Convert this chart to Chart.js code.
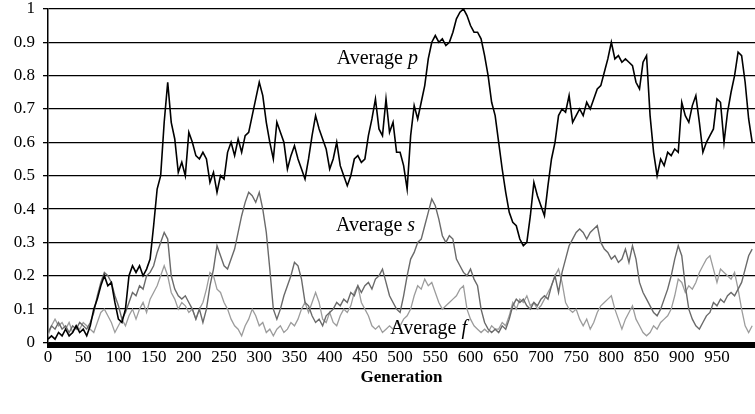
<!DOCTYPE html>
<html>
<head>
<meta charset="utf-8">
<title>Average p, s and f by generation</title>
<script src="https://cdn.jsdelivr.net/npm/chart.js@4"></script>
<style>
  body { margin: 0; background: #fff; }
  #wrap { width: 755px; height: 414px; position: relative; }
</style>
</head>
<body>
<div id="wrap"><canvas id="chart"></canvas></div>
<script>
const generations = [
  0, 5, 10, 15, 20, 25, 30, 35, 40, 45, 50, 55, 60, 65, 70, 75, 80, 85, 90, 95,
  100, 105, 110, 115, 120, 125, 130, 135, 140, 145, 150, 155, 160, 165, 170, 175, 180, 185, 190, 195,
  200, 205, 210, 215, 220, 225, 230, 235, 240, 245, 250, 255, 260, 265, 270, 275, 280, 285, 290, 295,
  300, 305, 310, 315, 320, 325, 330, 335, 340, 345, 350, 355, 360, 365, 370, 375, 380, 385, 390, 395,
  400, 405, 410, 415, 420, 425, 430, 435, 440, 445, 450, 455, 460, 465, 470, 475, 480, 485, 490, 495,
  500, 505, 510, 515, 520, 525, 530, 535, 540, 545, 550, 555, 560, 565, 570, 575, 580, 585, 590, 595,
  600, 605, 610, 615, 620, 625, 630, 635, 640, 645, 650, 655, 660, 665, 670, 675, 680, 685, 690, 695,
  700, 705, 710, 715, 720, 725, 730, 735, 740, 745, 750, 755, 760, 765, 770, 775, 780, 785, 790, 795,
  800, 805, 810, 815, 820, 825, 830, 835, 840, 845, 850, 855, 860, 865, 870, 875, 880, 885, 890, 895,
  900, 905, 910, 915, 920, 925, 930, 935, 940, 945, 950, 955, 960, 965, 970, 975, 980, 985, 990, 995, 1000,
]

// Average p (black)
const avgP = [
  0.01, 0.02, 0.01, 0.03, 0.02, 0.04, 0.02, 0.03, 0.05, 0.03, 0.04, 0.02, 0.05, 0.1, 0.13, 0.17, 0.2, 0.17, 0.18, 0.12,
  0.07, 0.06, 0.1, 0.2, 0.23, 0.21, 0.23, 0.2, 0.22, 0.25, 0.35, 0.46, 0.5, 0.66, 0.78, 0.66, 0.61, 0.51, 0.54, 0.5,
  0.63, 0.6, 0.56, 0.55, 0.57, 0.55, 0.48, 0.51, 0.45, 0.5, 0.49, 0.57, 0.6, 0.56, 0.61, 0.57, 0.62, 0.63, 0.68, 0.73,
  0.78, 0.74, 0.66, 0.6, 0.55, 0.66, 0.63, 0.6, 0.52, 0.56, 0.59, 0.55, 0.52, 0.49, 0.55, 0.62, 0.68, 0.64, 0.61, 0.58,
  0.52, 0.55, 0.6, 0.53, 0.5, 0.47, 0.5, 0.55, 0.56, 0.54, 0.55, 0.62, 0.67, 0.73, 0.64, 0.62, 0.73, 0.63, 0.66, 0.57,
  0.57, 0.53, 0.46, 0.62, 0.71, 0.67, 0.72, 0.77, 0.85, 0.9, 0.92, 0.9, 0.91, 0.89, 0.9, 0.93, 0.97, 0.99, 1.0, 0.98,
  0.95, 0.93, 0.93, 0.91, 0.86, 0.8, 0.72, 0.68, 0.6, 0.52, 0.45, 0.39, 0.36, 0.35, 0.31, 0.29, 0.3, 0.38, 0.48, 0.44,
  0.41, 0.38, 0.47, 0.55, 0.6, 0.68, 0.7, 0.69, 0.74, 0.66, 0.68, 0.7, 0.68, 0.72, 0.7, 0.73, 0.76, 0.77, 0.81, 0.85,
  0.9, 0.85, 0.86, 0.84, 0.85, 0.84, 0.83, 0.78, 0.76, 0.84, 0.86, 0.68, 0.57, 0.5, 0.55, 0.53, 0.57, 0.56, 0.58, 0.57,
  0.72, 0.68, 0.66, 0.71, 0.74, 0.66, 0.57, 0.6, 0.62, 0.64, 0.73, 0.72, 0.6, 0.69, 0.75, 0.8, 0.87, 0.86, 0.78, 0.67, 0.6,
]

// Average s (mid grey)
const avgS = [
  0.03, 0.05, 0.04, 0.06, 0.04, 0.05, 0.03, 0.05, 0.04, 0.06, 0.05, 0.04, 0.06, 0.09, 0.14, 0.18, 0.21, 0.2, 0.18, 0.14,
  0.11, 0.07, 0.09, 0.12, 0.15, 0.14, 0.17, 0.16, 0.2, 0.21, 0.23, 0.27, 0.3, 0.33, 0.31, 0.2, 0.16, 0.14, 0.13, 0.14,
  0.12, 0.1, 0.07, 0.1, 0.06, 0.1, 0.17, 0.22, 0.29, 0.26, 0.23, 0.22, 0.25, 0.28, 0.33, 0.38, 0.42, 0.45, 0.44, 0.42,
  0.45, 0.4, 0.33, 0.22, 0.1, 0.07, 0.1, 0.14, 0.17, 0.2, 0.24, 0.23, 0.19, 0.12, 0.11, 0.08, 0.06, 0.07, 0.05, 0.08,
  0.09, 0.1, 0.12, 0.11, 0.13, 0.12, 0.15, 0.14, 0.17, 0.15, 0.17, 0.18, 0.16, 0.19, 0.2, 0.22, 0.18, 0.14, 0.12, 0.1,
  0.09, 0.14, 0.2, 0.25, 0.27, 0.3, 0.31, 0.35, 0.39, 0.43, 0.41, 0.37, 0.32, 0.3, 0.32, 0.31, 0.25, 0.23, 0.21, 0.2,
  0.22, 0.19, 0.17, 0.1, 0.06, 0.04, 0.03, 0.04, 0.03, 0.05, 0.04, 0.07, 0.11, 0.13, 0.12, 0.13, 0.11, 0.1, 0.12, 0.11,
  0.13, 0.14, 0.13, 0.17, 0.2, 0.15, 0.21, 0.25, 0.29, 0.31, 0.33, 0.34, 0.33, 0.31, 0.33, 0.34, 0.35, 0.3, 0.28, 0.27,
  0.25, 0.26, 0.24, 0.25, 0.28, 0.24, 0.29, 0.25, 0.18, 0.15, 0.13, 0.11, 0.09, 0.08, 0.1, 0.13, 0.16, 0.2, 0.25, 0.29,
  0.26, 0.17, 0.1, 0.07, 0.05, 0.04, 0.06, 0.08, 0.09, 0.12, 0.11, 0.13, 0.12, 0.14, 0.15, 0.14, 0.16, 0.18, 0.22, 0.26, 0.28,
]

// Average f (light grey)
const avgF = [
  0.02, 0.05, 0.07, 0.05, 0.06, 0.04, 0.06, 0.03, 0.05, 0.04, 0.06, 0.05, 0.04, 0.03, 0.06, 0.09, 0.1, 0.08, 0.06, 0.03,
  0.05, 0.07, 0.05, 0.08, 0.1, 0.07, 0.1, 0.12, 0.09, 0.13, 0.15, 0.17, 0.2, 0.23, 0.2, 0.15, 0.13, 0.1, 0.12, 0.11,
  0.09, 0.1, 0.07, 0.1, 0.12, 0.16, 0.21, 0.2, 0.16, 0.15, 0.12, 0.1, 0.07, 0.05, 0.04, 0.02, 0.05, 0.07, 0.1, 0.08,
  0.05, 0.06, 0.03, 0.04, 0.02, 0.04, 0.05, 0.03, 0.04, 0.06, 0.05, 0.07, 0.1, 0.12, 0.09, 0.12, 0.15, 0.12, 0.07, 0.06,
  0.09, 0.06, 0.05, 0.08, 0.1, 0.09, 0.11, 0.15, 0.17, 0.12, 0.1, 0.08, 0.05, 0.04, 0.05, 0.03, 0.04, 0.05, 0.04, 0.06,
  0.05, 0.07, 0.08, 0.1, 0.14, 0.17, 0.16, 0.19, 0.17, 0.18, 0.15, 0.12, 0.1, 0.11, 0.12, 0.13, 0.14, 0.16, 0.17, 0.1,
  0.07, 0.05, 0.04, 0.03, 0.04, 0.03, 0.05, 0.04, 0.04, 0.06, 0.05, 0.08, 0.12, 0.1, 0.13, 0.12, 0.14, 0.11, 0.12, 0.1,
  0.11, 0.13, 0.15, 0.17, 0.2, 0.22, 0.18, 0.12, 0.1, 0.09, 0.1, 0.07, 0.05, 0.07, 0.04, 0.06, 0.09, 0.11, 0.12, 0.13,
  0.14, 0.1, 0.07, 0.04, 0.07, 0.09, 0.11, 0.07, 0.05, 0.03, 0.02, 0.03, 0.05, 0.04, 0.06, 0.07, 0.08, 0.1, 0.14, 0.19,
  0.18, 0.15, 0.17, 0.16, 0.18, 0.21, 0.23, 0.25, 0.26, 0.22, 0.18, 0.22, 0.21, 0.2, 0.19, 0.21, 0.16, 0.1, 0.05, 0.03, 0.05,
]

// in-plot labels: [text before italic, italic letter, generation, value]
const seriesLabels = [
  ['Average ', 'p', 410, 0.85],
  ['Average ', 's', 409, 0.35],
  ['Average ', 'f', 486, 0.04],
]

const serif = "'Liberation Serif', 'Times New Roman', serif"

function toPoints(values) {
  return generations.map((g, i) => ({ x: g, y: values[i] }))
}

// thick black base line under the plot + the text labels
const decorations = {
  id: 'decorations',
  afterDatasetsDraw(chart) {
    const { ctx, chartArea, scales } = chart
    ctx.save()
    ctx.fillStyle = '#000'
    ctx.fillRect(chartArea.left - 1, chartArea.bottom, chartArea.right - chartArea.left + 1, 5.5)

    ctx.textBaseline = 'middle'
    ctx.textAlign = 'left'
    seriesLabels.forEach(([word, letter, gen, val]) => {
      const x = scales.x.getPixelForValue(gen)
      const y = scales.y.getPixelForValue(val)
      ctx.font = '20px ' + serif
      ctx.fillText(word, x, y)
      const w = ctx.measureText(word).width
      ctx.font = 'italic 20px ' + serif
      ctx.fillText(letter, x + w, y)
    })
    ctx.restore()
  },
}

new Chart(document.getElementById('chart'), {
  type: 'line',
  data: {
    datasets: [
      {
        label: 'Average p',
        data: toPoints(avgP),
        borderColor: '#000000',
        borderWidth: 1.6,
        order: 0,
      },
      {
        label: 'Average s',
        data: toPoints(avgS),
        borderColor: '#6a6a6a',
        borderWidth: 1.4,
        order: 1,
      },
      {
        label: 'Average f',
        data: toPoints(avgF),
        borderColor: '#9c9c9c',
        borderWidth: 1.3,
        order: 2,
      },
    ],
  },
  options: {
    responsive: true,
    maintainAspectRatio: false,
    animation: false,
    layout: { padding: { top: 7.5, right: 0, left: 0, bottom: 0 } },
    elements: { point: { radius: 0 }, line: { tension: 0 } },
    plugins: {
      legend: { display: false },
      tooltip: { enabled: false },
    },
    scales: {
      x: {
        type: 'linear',
        min: 0,
        max: 1004,
        afterFit: (scale) => { scale.height = 71.5 },
        afterBuildTicks: (scale) => {
          scale.ticks = scale.ticks.filter((t) => t.value <= 950 && t.value % 50 === 0)
        },
        grid: { display: false, drawTicks: false },
        border: { display: false },
        ticks: {
          stepSize: 50,
          autoSkip: false,
          maxRotation: 0,
          padding: 5,
          color: '#000',
          font: { family: serif, size: 17 },
        },
        title: {
          display: true,
          text: 'Generation',
          color: '#000',
          font: { family: serif, size: 17, weight: 'bold' },
          padding: { top: 0, bottom: 26 },
        },
      },
      y: {
        min: 0,
        max: 1,
        afterFit: (scale) => { scale.width = 48 },
        grid: {
          color: '#000',
          lineWidth: 1.3,
          drawTicks: true,
          tickLength: 5,
          tickColor: '#000',
        },
        border: { display: true, color: '#000', width: 1.5 },
        ticks: {
          stepSize: 0.1,
          padding: 8,
          color: '#000',
          font: { family: serif, size: 17, lineHeight: 0.1 },
          callback: (v) => String(Math.round(v * 10) / 10),
        },
      },
    },
  },
  plugins: [decorations],
})
</script>
</body>
</html>
